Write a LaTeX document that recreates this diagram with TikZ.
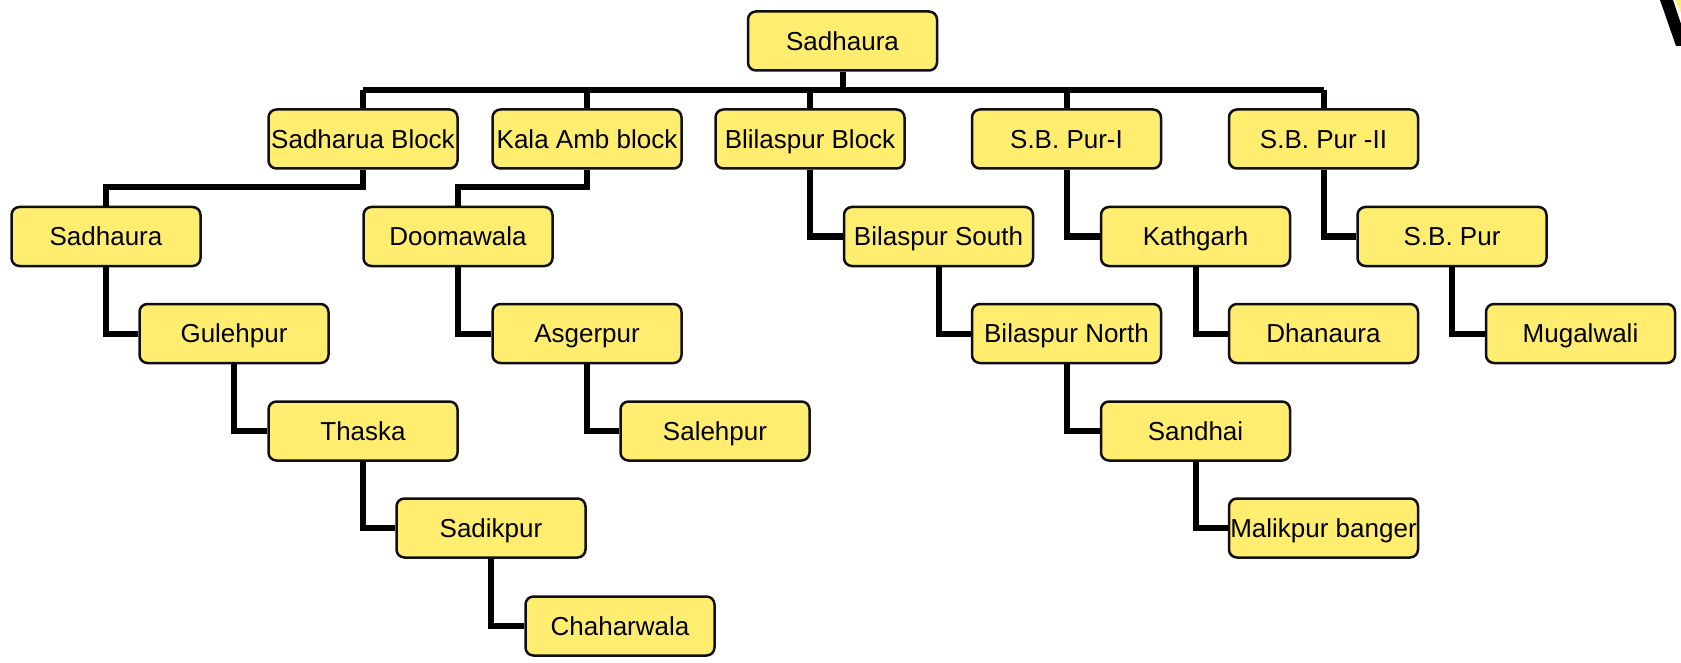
\documentclass[tikz,border=0pt]{standalone}
\usepackage{fontspec}
\setmainfont{Liberation Sans}
\definecolor{boxfill}{RGB}{255,237,111}
\definecolor{boxline}{RGB}{15,15,15}
\tikzset{
  box/.style={rectangle, rounded corners=8pt, draw=boxline, line width=2.5pt, fill=boxfill,
    minimum width=189pt, minimum height=59pt, inner sep=0pt,
    text height=18.6pt, text depth=0pt,
    font=\fontsize{26}{31}\selectfont},
  conn/.style={line width=6pt, black}
}
\begin{document}
\begin{tikzpicture}[x=1pt,y=-1pt]
\useasboundingbox (0,0) rectangle (1681,663);
% top-right fragment
\fill[black] (1660,0) -- (1673,0) -- (1681,24) -- (1681,46) -- (1676,46) -- cycle;
\fill[boxfill] (1675,0) -- (1681,0) -- (1681,13) -- cycle;
% nodes
\node[box] (root) at (842.5,41) {Sadhaura};
\node[box] (a1) at (363,139) {Sadharua Block};
\node[box] (a2) at (587,139) {Kala Amb block};
\node[box] (a3) at (810,139) {Blilaspur Block};
\node[box] (a4) at (1066.5,139) {S.B. Pur-I};
\node[box] (a5) at (1323.5,139) {S.B. Pur -II};
\node[box] (b1) at (106,236.5) {Sadhaura};
\node[box] (b2) at (458,236.5) {Doomawala};
\node[box] (b3) at (938.5,236.5) {Bilaspur South};
\node[box] (b4) at (1195.5,236.5) {Kathgarh};
\node[box] (b5) at (1452,236.5) {S.B. Pur};
\node[box] (c1) at (234,333.5) {Gulehpur};
\node[box] (c2) at (587,333.5) {Asgerpur};
\node[box] (c3) at (1066.5,333.5) {Bilaspur North};
\node[box] (c4) at (1323.5,333.5) {Dhanaura};
\node[box] (c5) at (1580.5,333.5) {Mugalwali};
\node[box] (d1) at (363,431) {Thaska};
\node[box] (d2) at (715,431) {Salehpur};
\node[box] (d3) at (1195.5,431) {Sandhai};
\node[box] (e1) at (491,528) {Sadikpur};
\node[box] (e2) at (1323.5,528) {Malikpur banger};
\node[box] (f1) at (620,626) {Chaharwala};
% connectors
\coordinate (bus) at (0,90);
\coordinate (elb) at (0,187);
\draw[conn] (root.south) -- (root |- bus);
\draw[conn] (a1 |- bus) -- (a5 |- bus);
\foreach \n in {a1,a2,a3,a4,a5} \draw[conn] (\n |- bus) -- (\n.north);
\draw[conn] (a1.south) -- (a1 |- elb) -- (b1 |- elb) -- (b1.north);
\draw[conn] (a2.south) -- (a2 |- elb) -- (b2 |- elb) -- (b2.north);
\draw[conn] (a3.south) |- (b3.west);
\draw[conn] (a4.south) |- (b4.west);
\draw[conn] (a5.south) |- (b5.west);
\draw[conn] (b1.south) |- (c1.west);
\draw[conn] (b2.south) |- (c2.west);
\draw[conn] (b3.south) |- (c3.west);
\draw[conn] (b4.south) |- (c4.west);
\draw[conn] (b5.south) |- (c5.west);
\draw[conn] (c1.south) |- (d1.west);
\draw[conn] (c2.south) |- (d2.west);
\draw[conn] (c3.south) |- (d3.west);
\draw[conn] (d1.south) |- (e1.west);
\draw[conn] (d3.south) |- (e2.west);
\draw[conn] (e1.south) |- (f1.west);
\end{tikzpicture}
\end{document}
